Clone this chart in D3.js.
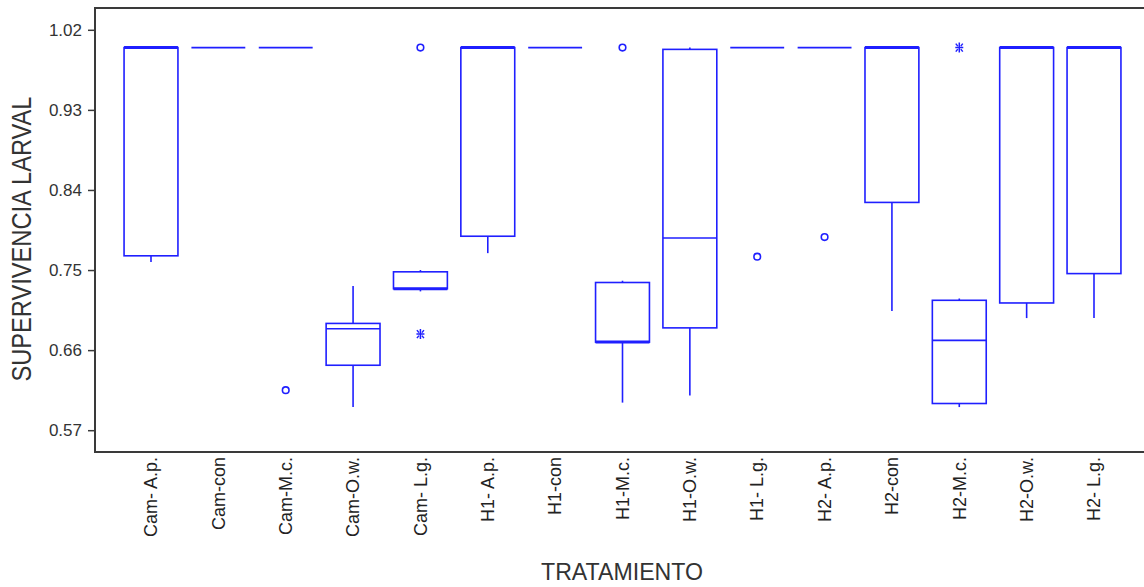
<!DOCTYPE html>
<html>
<head>
<meta charset="utf-8">
<script src="https://cdn.jsdelivr.net/npm/d3@7"></script>
<style>
  body { margin: 0; background: #fff; }
  svg { display: block; }
</style>
</head>
<body>
<svg width="1144" height="587"></svg>
<script>
// box plot of larval survival per treatment

// categories on the x axis
const categories = [
  "Cam- A.p.", "Cam-con", "Cam-M.c.", "Cam-O.w.", "Cam- L.g.",
  "H1- A.p.", "H1-con", "H1-M.c.", "H1-O.w.", "H1- L.g.",
  "H2- A.p.", "H2-con", "H2-M.c.", "H2-O.w.", "H2- L.g."
];
// box statistics
const whiskerLow = [0.759, 1.0, 1.0, 0.596, 0.726, 0.769, 1.0, 0.601, 0.609, 1.0, 1.0, 0.704, 0.596, 0.696, 0.696];
const q1 = [0.766, 1.0, 1.0, 0.643, 0.729, 0.788, 1.0, 0.669, 0.685, 1.0, 1.0, 0.826, 0.600, 0.713, 0.746];
const median = [1.0, 1.0, 1.0, 0.684, 0.729, 1.0, 1.0, 0.669, 0.786, 1.0, 1.0, 1.0, 0.671, 1.0, 1.0];
const q3 = [1.0, 1.0, 1.0, 0.690, 0.748, 1.0, 1.0, 0.736, 0.998, 1.0, 1.0, 1.0, 0.716, 1.0, 1.0];
const whiskerHigh = [1.0, 1.0, 1.0, 0.732, 0.750, 1.0, 1.0, 0.738, 1.0, 1.0, 1.0, 1.0, 0.718, 1.0, 1.0];
// outliers (circle) and extremes (star)
const outlierCat = ["Cam-M.c.", "Cam- L.g.", "H1-M.c.", "H1- L.g.", "H2- A.p."];
const outlierVal = [0.615, 1.0, 1.0, 0.765, 0.787];
const extremeCat = ["Cam- L.g.", "H2-M.c."];
const extremeVal = [0.678, 1.0];
// y tick labels
const yTicks = [0.57, 0.66, 0.75, 0.84, 0.93, 1.02];

const svg = d3.select("svg");
const blue = "#1f1fff";

// plot frame
const plotLeft = 95;
const plotRight = 1152;
const plotTop = 8;
const plotBottom = 452;

const x = d3.scalePoint().domain(categories).range([151, 1094]);
const boxW = x.step() * 0.8;
const y = d3.scaleLinear().domain([0.5455, 1.0445]).range([plotBottom, plotTop]);

// frame lines
svg.append("rect")
  .attr("x", plotLeft)
  .attr("y", plotTop)
  .attr("width", plotRight - plotLeft)
  .attr("height", plotBottom - plotTop)
  .attr("fill", "none")
  .attr("stroke", "#3a3a3a")
  .attr("stroke-width", 2);

// y axis
const yAxis = svg.append("g")
  .attr("transform", `translate(${plotLeft},0)`)
  .call(d3.axisLeft(y).tickValues(yTicks).tickFormat(d3.format(".2f")).tickSize(7).tickPadding(6));
yAxis.select(".domain").remove();
yAxis.selectAll("line").attr("stroke", "#3a3a3a").attr("stroke-width", 1.5);
yAxis.selectAll("text")
  .attr("fill", "#333")
  .attr("font-size", 17)
  .attr("font-family", "Liberation Sans, Arial, sans-serif");

// x axis labels (rotated)
const xAxis = svg.append("g")
  .attr("transform", `translate(0,${plotBottom})`)
  .call(d3.axisBottom(x).tickSize(0).tickPadding(0));
xAxis.select(".domain").remove();
xAxis.selectAll("text")
  .attr("fill", "#222")
  .attr("font-size", 18)
  .attr("font-family", "Liberation Sans, Arial, sans-serif")
  .attr("text-anchor", "end")
  .attr("transform", "rotate(-90)")
  .attr("x", -5)
  .attr("y", 0)
  .attr("dy", "0.32em");

// axis titles
svg.append("text")
  .text("SUPERVIVENCIA LARVAL")
  .attr("transform", "translate(31,239) rotate(-90)")
  .attr("text-anchor", "middle")
  .attr("font-size", 27)
  .attr("textLength", 285)
  .attr("lengthAdjust", "spacingAndGlyphs")
  .attr("fill", "#333")
  .attr("font-family", "Liberation Sans, Arial, sans-serif");
svg.append("text")
  .text("TRATAMIENTO")
  .attr("x", 622)
  .attr("y", 580)
  .attr("text-anchor", "middle")
  .attr("font-size", 24)
  .attr("textLength", 162)
  .attr("lengthAdjust", "spacingAndGlyphs")
  .attr("fill", "#333")
  .attr("font-family", "Liberation Sans, Arial, sans-serif");

// boxes
const boxes = svg.append("g");
categories.forEach((c, i) => {
  const cx = x(c);
  // whiskers
  boxes.append("line")
    .attr("x1", cx).attr("x2", cx)
    .attr("y1", y(whiskerLow[i])).attr("y2", y(q1[i]))
    .attr("stroke", blue).attr("stroke-width", 1.6);
  boxes.append("line")
    .attr("x1", cx).attr("x2", cx)
    .attr("y1", y(q3[i])).attr("y2", y(whiskerHigh[i]))
    .attr("stroke", blue).attr("stroke-width", 1.6);
  // box
  boxes.append("rect")
    .attr("x", cx - boxW / 2)
    .attr("y", y(q3[i]))
    .attr("width", boxW)
    .attr("height", y(q1[i]) - y(q3[i]))
    .attr("fill", "none")
    .attr("stroke", blue)
    .attr("stroke-width", 1.6);
  // median (drawn heavier when it sits on an edge of a real box)
  const onEdge = q3[i] > q1[i] && (median[i] === q3[i] || median[i] === q1[i]);
  boxes.append("line")
    .attr("x1", cx - boxW / 2).attr("x2", cx + boxW / 2)
    .attr("y1", y(median[i])).attr("y2", y(median[i]))
    .attr("stroke", blue)
    .attr("stroke-width", onEdge ? 3 : 1.6);
});

// outlier circles
svg.append("g")
  .selectAll("circle")
  .data(outlierCat)
  .join("circle")
  .attr("cx", (d) => x(d))
  .attr("cy", (d, i) => y(outlierVal[i]))
  .attr("r", 3.3)
  .attr("fill", "none")
  .attr("stroke", blue)
  .attr("stroke-width", 1.6);

// extreme stars
svg.append("g")
  .selectAll("path")
  .data(extremeCat)
  .join("path")
  .attr("transform", (d, i) => `translate(${x(d)},${y(extremeVal[i])})`)
  .attr("d", "M0,-5V5M-4,0H4M-3.5,-4L-1.5,-1.5M3.5,-4L1.5,-1.5M-3.5,4L-1.5,1.5M3.5,4L1.5,1.5")
  .attr("fill", "none")
  .attr("stroke", blue)
  .attr("stroke-width", 1.5);
</script>
</body>
</html>
